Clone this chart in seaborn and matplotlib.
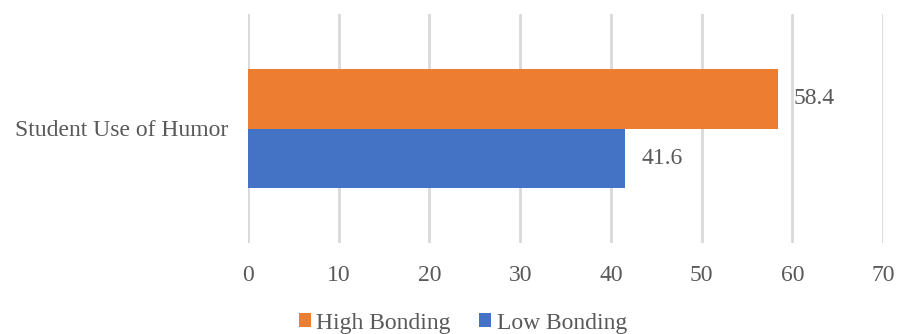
import matplotlib
matplotlib.use("Agg")
import matplotlib.pyplot as plt
import seaborn as sns
import pandas as pd
from matplotlib.patches import Patch

categories = ["Student Use of Humor"]
groups = ["High Bonding", "Low Bonding"]
high_bonding = [58.4]
low_bonding = [41.6]
x_ticks = [0, 10, 20, 30, 40, 50, 60, 70]

colors = {"High Bonding": "#ED7D31", "Low Bonding": "#4472C4"}
text_color = "#595959"
grid_color = "#D9D9D9"

df = pd.DataFrame({
    "category": categories * 2,
    "group": [groups[0]] * len(categories) + [groups[1]] * len(categories),
    "value": high_bonding + low_bonding,
})

sns.set_theme(style="white")
plt.rcParams["font.family"] = ["Liberation Serif", "DejaVu Serif"]
fs = 17

fig = plt.figure(figsize=(8.97, 3.34), dpi=100)
ax = fig.add_axes([248 / 897, 1 - 243 / 334, (883 - 248) / 897, (243 - 14) / 334])

sns.barplot(data=df, x="value", y="category", hue="group", hue_order=groups,
            palette=colors, orient="h", width=0.524, saturation=1,
            linewidth=0, edgecolor="none", ax=ax, legend=False, zorder=3)

ax.set_xlim(0, 70)
ax.set_ylim(0.5, -0.5)
ax.set_xticks(x_ticks)
ax.set_xticklabels([str(t) for t in x_ticks])
ax.set_xlabel("")
ax.set_ylabel("")

ax.grid(axis="x", color=grid_color, linewidth=2, zorder=0)
ax.grid(axis="y", visible=False)
for s in ax.spines.values():
    s.set_visible(False)

ax.tick_params(axis="x", length=0, pad=15.5, labelsize=fs, labelcolor=text_color)
ax.tick_params(axis="y", length=0, pad=14, labelsize=fs, labelcolor=text_color)

for cont in ax.containers:
    ax.bar_label(cont, labels=[f"{v:.1f}" for v in cont.datavalues],
                 padding=11.5, fontsize=fs, color=text_color)

handles = [Patch(facecolor=colors[g], edgecolor="none") for g in groups]
fig.legend(handles, groups, loc="center", bbox_to_anchor=(463 / 897, 1 - 323 / 334),
           ncol=2, frameon=False, fontsize=fs, labelcolor=text_color,
           handlelength=0.5, handleheight=0.5, handletextpad=0.25,
           columnspacing=1.2, borderaxespad=0)

fig.savefig("out.png", dpi=100)
